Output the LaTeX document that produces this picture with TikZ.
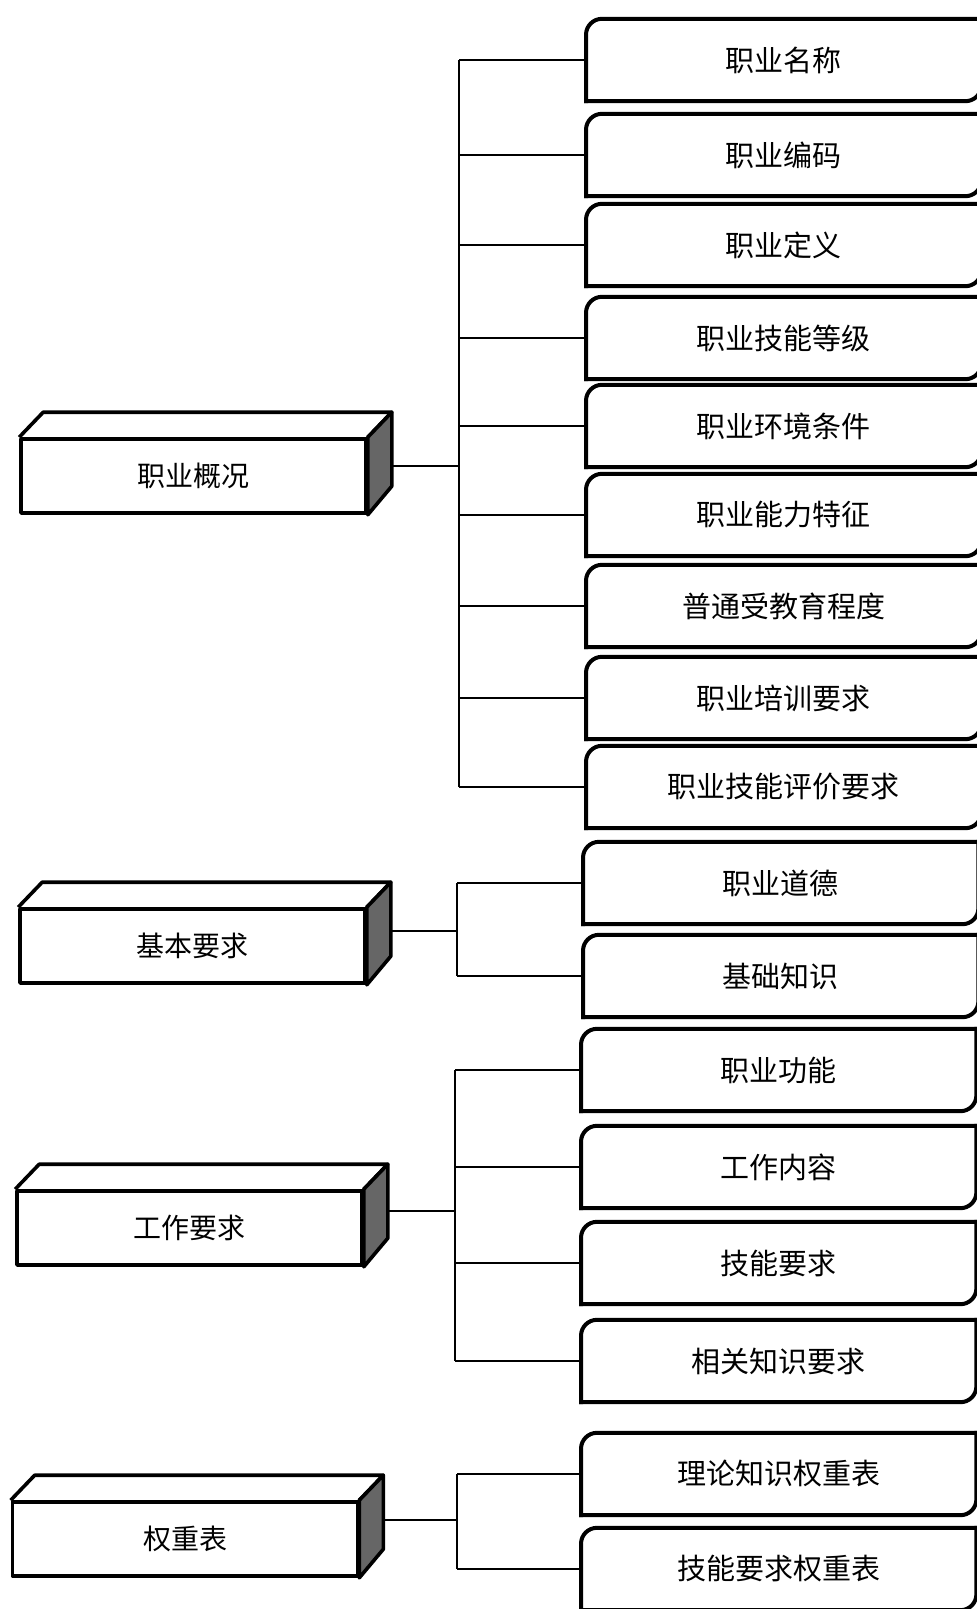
\documentclass[tikz,border=0pt]{standalone}
\usepackage{fontspec}
\setmainfont{Noto Sans CJK SC}
\usetikzlibrary{calc}

\begin{document}
\begin{tikzpicture}[x=1pt,y=-1pt,line join=round,
    cube/.style={draw,line width=3.6pt,minimum width=345pt,minimum height=74pt,
      inner sep=0pt,font=\fontsize{28}{28}\selectfont},
    item/.style={anchor=west,minimum width=395pt,minimum height=82pt,
      inner sep=0pt,font=\fontsize{29}{29}\selectfont},
    rim/.style={line width=4pt,rounded corners=16pt,line cap=rect},
    link/.style={line width=1.5pt}]
  \useasboundingbox (0,0) rectangle (977,1609);
  \clip (0,0) rectangle (977,1609);

  \foreach \n/\x/\y/\d/\t in {gk/193.5/476/10/职业概况,jb/192.5/946/15/基本要求,
      gz/189.5/1228/17/工作要求,qz/185/1539/19/权重表}{
    \node[cube] (\n) at (\x,\y) {\t};
    \draw[line width=3.6pt] (\n.north west) -- ++(24,-25)
      -- ([shift={(24,-25)}]\n.north east) -- (\n.north east);
    \draw[line width=3.6pt,fill=black!60] (\n.north east) -- ++(24,-25)
      -- ++(0,74) -- (\n.south east) -- cycle;
    \coordinate (\n-o) at ([shift={(24,-\d)}]\n.east);
  }

  \foreach \n/\x/\y/\t in {a1/586/60/职业名称,a2/586/155/职业编码,
      a3/586/245/职业定义,a4/586/338/职业技能等级,a5/586/426/职业环境条件,
      a6/586/515/职业能力特征,a7/586/606/普通受教育程度,a8/586/698/职业培训要求,
      a9/586/787/职业技能评价要求,b1/583/883/职业道德,b2/583/976/基础知识,
      c1/581/1070/职业功能,c2/581/1167/工作内容,c3/581/1263/技能要求,
      c4/581/1361/相关知识要求,d1/581/1474/理论知识权重表,d2/581/1569/技能要求权重表}{
    \node[item] (\n) at (\x,\y) {\t};
    \draw[rim] (\n.south west) -- (\n.north west) -- (\n.north east);
    \draw[rim] (\n.north east) -- (\n.south east) -- (\n.south west);
  }

  \coordinate (t1) at (459,0);
  \coordinate (t2) at (457,0);
  \coordinate (t3) at (455,0);
  \coordinate (t4) at (457,0);

  \draw[link] (gk-o) -- (gk-o -| t1);
  \draw[link] (t1 |- a1.west) -- (t1 |- a9.west);
  \foreach \i in {1,...,9}
    \draw[link] (t1 |- a\i.west) -- (a\i.west);

  \draw[link] (jb-o) -- (jb-o -| t2);
  \draw[link] (t2 |- b1.west) -- (t2 |- b2.west);
  \foreach \i in {1,2}
    \draw[link] (t2 |- b\i.west) -- (b\i.west);

  \draw[link] (gz-o) -- (gz-o -| t3);
  \draw[link] (t3 |- c1.west) -- (t3 |- c4.west);
  \foreach \i in {1,...,4}
    \draw[link] (t3 |- c\i.west) -- (c\i.west);

  \draw[link] (qz-o) -- (qz-o -| t4);
  \draw[link] (t4 |- d1.west) -- (t4 |- d2.west);
  \foreach \i in {1,2}
    \draw[link] (t4 |- d\i.west) -- (d\i.west);
\end{tikzpicture}
\end{document}
